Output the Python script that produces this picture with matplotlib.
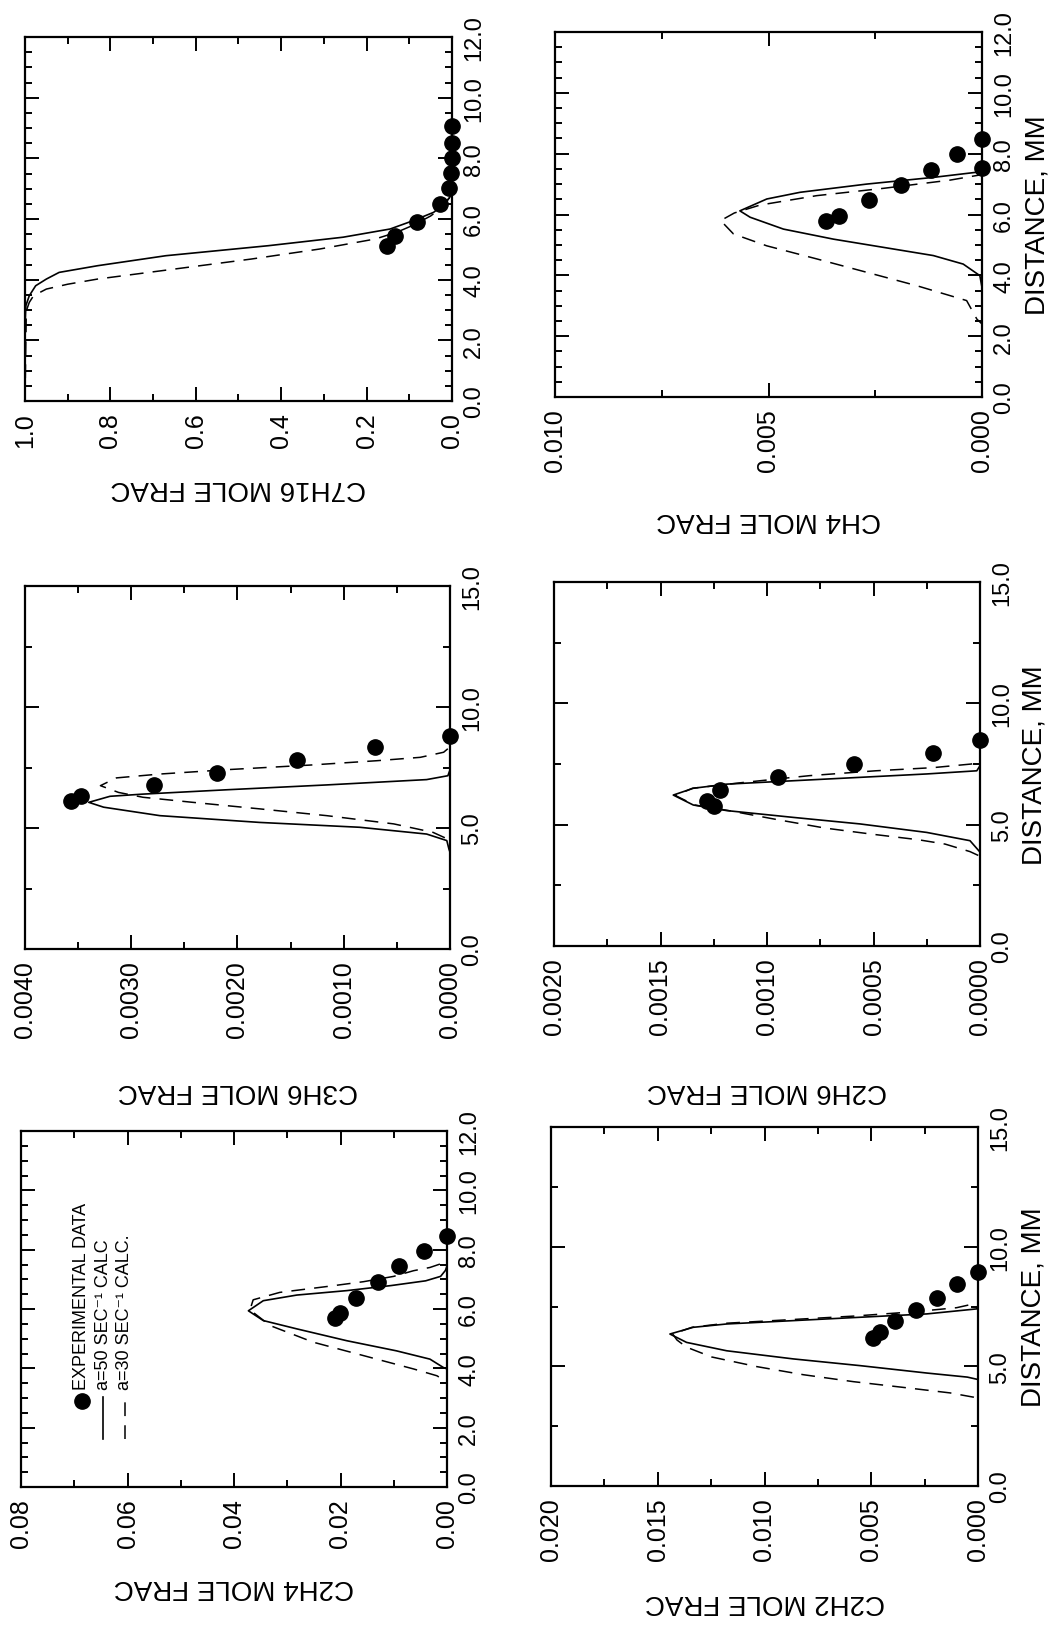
import matplotlib
matplotlib.use("Agg")
import matplotlib.pyplot as plt
from matplotlib.ticker import MultipleLocator, FormatStrFormatter

plt.rcParams["font.family"] = ["Liberation Sans", "DejaVu Sans"]

# --- data (distance in mm, mole fraction) ---

# C7H16
c7h16_exp_dist = [5.12, 5.43, 5.91, 6.49, 7.02, 7.52, 8.0, 8.5, 9.06]
c7h16_exp = [0.152, 0.133, 0.082, 0.029, 0.008, 0.003, 0.001, 0.0, 0.0]
c7h16_a50_dist = [0.0, 2.5, 3.14, 3.47, 3.80, 4.02, 4.24, 4.46, 4.79, 5.12,
                  5.40, 5.67, 5.95, 6.22, 6.50, 6.72, 7.0, 12.0]
c7h16_a50 = [1.0, 1.0, 0.998, 0.99, 0.975, 0.95, 0.92, 0.83, 0.67, 0.43,
             0.255, 0.145, 0.09, 0.043, 0.018, 0.005, 0.0, 0.0]
c7h16_a30_dist = [0.0, 2.97, 3.25, 3.47, 3.69, 3.85, 4.02, 4.35, 4.68, 5.01,
                  5.34, 5.56, 5.80, 6.1, 6.4, 6.7, 7.0, 12.0]
c7h16_a30 = [1.0, 0.997, 0.99, 0.98, 0.95, 0.90, 0.83, 0.65, 0.47, 0.31,
             0.18, 0.13, 0.09, 0.05, 0.022, 0.006, 0.0, 0.0]

# C3H6
c3h6_exp_dist = [6.10, 6.33, 6.78, 7.29, 7.82, 8.33, 8.81]
c3h6_exp = [0.00357, 0.00347, 0.00279, 0.00219, 0.00144, 0.00071, 0.0]
c3h6_a50_dist = [0.0, 4.0, 4.13, 4.48, 4.75, 5.03, 5.23, 5.51, 5.86, 6.06,
                 6.31, 6.40, 6.58, 6.78, 7.0, 7.16, 7.4, 15.0]
c3h6_a50 = [0.0, 0.0, 0.00001, 0.00003, 0.00022, 0.00085, 0.00179, 0.00273,
            0.00326, 0.0034, 0.0032, 0.00289, 0.0021, 0.00116, 0.00022,
            0.00002, 0.0, 0.0]
c3h6_a30_dist = [0.0, 4.5, 4.82, 5.17, 5.51, 5.79, 6.06, 6.27, 6.47, 6.75,
                 7.07, 7.23, 7.41, 7.60, 7.78, 7.92, 8.13, 8.35, 15.0]
c3h6_a30 = [0.0, 0.0, 0.00016, 0.00053, 0.00116, 0.00179, 0.00242, 0.00289,
            0.00312, 0.00329, 0.00314, 0.00273, 0.0021, 0.00132, 0.00069,
            0.00028, 0.00006, 0.0, 0.0]

# C2H4
c2h4_exp_dist = [5.70, 5.86, 6.37, 6.90, 7.46, 7.96, 8.47]
c2h4_exp = [0.0211, 0.0201, 0.0171, 0.0129, 0.0091, 0.0043, 0.0]
c2h4_a50_dist = [0.0, 3.98, 4.03, 4.31, 4.59, 4.93, 5.33, 5.61, 5.94, 6.28,
                 6.47, 6.62, 6.79, 6.95, 7.1, 7.3, 7.45, 12.0]
c2h4_a50 = [0.0, 0.0, 0.0007, 0.0032, 0.0095, 0.0188, 0.0282, 0.0345, 0.0373,
            0.0345, 0.0282, 0.0188, 0.0105, 0.004, 0.0012, 0.0003, 0.0, 0.0]
c2h4_a30_dist = [0.0, 3.54, 3.75, 3.98, 4.43, 4.88, 5.44, 5.97, 6.31, 6.56,
                 6.77, 6.92, 7.1, 7.29, 7.40, 7.57, 7.7, 12.0]
c2h4_a30 = [0.0, 0.0, 0.0019, 0.0063, 0.0157, 0.0251, 0.0332, 0.0370, 0.0364,
            0.0314, 0.0220, 0.0157, 0.0100, 0.0063, 0.0032, 0.0004, 0.0, 0.0]

# CH4
ch4_exp_dist = [5.79, 5.96, 6.49, 6.97, 7.47, 7.99, 7.54, 8.48]
ch4_exp = [0.00365, 0.00335, 0.00265, 0.0019, 0.0012, 0.00058, 0.0, 0.0]
ch4_a50_dist = [0.0, 3.6, 3.99, 4.37, 4.65, 4.92, 5.19, 5.52, 5.91, 6.12,
                6.51, 6.73, 7.0, 7.22, 7.39, 7.6, 12.0]
ch4_a50 = [0.0, 0.0, 0.00005, 0.00044, 0.00114, 0.00231, 0.00348, 0.00465,
           0.00543, 0.00567, 0.00504, 0.00426, 0.0027, 0.00114, 0.00012,
           0.0, 0.0]
ch4_a30_dist = [0.0, 2.4, 2.56, 3.17, 3.66, 4.10, 4.54, 4.97, 5.36, 5.80,
                6.05, 6.31, 6.62, 6.86, 7.13, 7.30, 7.45, 12.0]
ch4_a30 = [0.0, 0.0, 0.00012, 0.00036, 0.00153, 0.0027, 0.00387, 0.00504,
           0.00582, 0.00612, 0.0058, 0.0052, 0.00387, 0.00231, 0.00075,
           0.00005, 0.0, 0.0]

# C2H6
c2h6_exp_dist = [5.78, 5.99, 6.44, 6.95, 7.49, 7.97, 8.49]
c2h6_exp = [0.00125, 0.00128, 0.00122, 0.00095, 0.00059, 0.00022, 0.0]
c2h6_a50_dist = [0.0, 3.87, 4.34, 4.68, 5.03, 5.30, 5.58, 5.81, 6.22, 6.50,
                 6.67, 6.81, 6.95, 7.09, 7.22, 7.43, 15.0]
c2h6_a50 = [0.0, 0.0, 0.000047, 0.00025, 0.000563, 0.000877, 0.001189,
            0.001346, 0.00144, 0.001346, 0.001189, 0.000877, 0.000563,
            0.00025, 0.000015, 0.0, 0.0]
c2h6_a30_dist = [0.0, 3.7, 3.89, 4.20, 4.38, 4.61, 4.86, 5.20, 5.58, 5.81,
                 6.2, 6.5, 6.74, 7.02, 7.22, 7.35, 7.5, 7.65, 15.0]
c2h6_a30 = [0.0, 0.0, 0.000047, 0.000164, 0.00029, 0.000509, 0.000728,
            0.000947, 0.00118, 0.00134, 0.00143, 0.00135, 0.00111, 0.0008,
            0.00049, 0.00022, 0.00004, 0.0, 0.0]

# C2H2
c2h2_exp_dist = [6.20, 6.44, 6.88, 7.37, 7.87, 8.44, 8.93]
c2h2_exp = [0.0049, 0.0046, 0.0039, 0.0029, 0.0019, 0.00097, 0.0]
c2h2_a50_dist = [0.0, 4.45, 4.55, 4.72, 5.03, 5.31, 5.65, 6.0, 6.35, 6.63,
                 6.77, 6.91, 7.05, 7.19, 7.40, 7.55, 15.0]
c2h2_a50 = [0.0, 0.0, 0.0005, 0.0024, 0.00553, 0.00865, 0.01177, 0.01365,
            0.01443, 0.01334, 0.01177, 0.00865, 0.00553, 0.0024, 0.00006,
            0.0, 0.0]
c2h2_a30_dist = [0.0, 3.65, 3.71, 3.89, 4.12, 4.36, 4.65, 4.99, 5.39, 5.80,
                 6.1, 6.35, 6.63, 6.8, 6.95, 7.1, 7.28, 7.45, 7.65, 15.0]
c2h2_a30 = [0.0, 0.0, 0.0002, 0.00131, 0.0035, 0.00584, 0.00818, 0.01037,
            0.01247, 0.01365, 0.0141, 0.0143, 0.0134, 0.0118, 0.0088, 0.0058,
            0.0030, 0.0010, 0.0, 0.0]

legend_labels = ["EXPERIMENTAL DATA", "a=50 SEC\u207b\u00b9 CALC",
                 "a=30 SEC\u207b\u00b9 CALC."]

W, H = 1061, 1631
DASH = (0, (9, 6))


def px_rect(x0, y0, x1, y1):
    # pixel box on the (rotated) page -> figure fraction
    return [x0 / W, 1 - y1 / H, (x1 - x0) / W, (y1 - y0) / H]


def draw_panel(fig, box, exp, a50, a30, frac, dist, name, label_y, show_dist):
    ax = fig.add_axes(px_rect(*box))
    # the page is turned: distance runs up, mole fraction grows to the left
    ax.plot(a50[1], a50[0], color="black", lw=1.2)
    ax.plot(a30[1], a30[0], color="black", lw=1.1, ls=DASH)
    ax.plot(exp[1], exp[0], "o", color="black", ms=11, clip_on=False, zorder=5)

    fmax, fmajor, fminor, ffmt = frac
    dmax, dmajor, dminor = dist
    ax.set_xlim(fmax, 0)
    ax.set_ylim(0, dmax)
    ax.xaxis.set_major_locator(MultipleLocator(fmajor))
    ax.xaxis.set_minor_locator(MultipleLocator(fminor))
    ax.xaxis.set_major_formatter(FormatStrFormatter(ffmt))
    ax.yaxis.set_major_locator(MultipleLocator(dmajor))
    ax.yaxis.set_minor_locator(MultipleLocator(dminor))
    ax.yaxis.set_major_formatter(FormatStrFormatter("%.1f"))

    ax.tick_params(which="both", direction="in", top=True, bottom=True,
                   left=True, right=True, labelleft=False, labelright=True,
                   labeltop=False, labelbottom=True, width=1.4)
    ax.tick_params(which="major", length=10)
    ax.tick_params(which="minor", length=5)
    ax.tick_params(axis="x", labelrotation=90, labelsize=18, pad=8)
    ax.tick_params(axis="y", labelrotation=90, labelsize=17, pad=8)
    for t in ax.yaxis.get_major_ticks():
        t.label2.set_verticalalignment("center")
    for s in ax.spines.values():
        s.set_linewidth(1.6)

    ax.set_xlabel(name, rotation=180, fontsize=20)
    ax.xaxis.set_label_coords(0.5, label_y)
    ax.xaxis.label.set_verticalalignment("center")
    if show_dist:
        ax.yaxis.set_label_position("right")
        ax.set_ylabel("DISTANCE, MM", rotation=90, fontsize=20)
        ax.yaxis.set_label_coords(1.129, 0.5)
        ax.yaxis.label.set_verticalalignment("center")
        ax.yaxis.label.set_horizontalalignment("center")
    return ax


def main():
    fig = plt.figure(figsize=(W / 100, H / 100), dpi=100)
    fig.patch.set_facecolor("white")

    draw_panel(fig, (25, 38, 452, 402),
               (c7h16_exp_dist, c7h16_exp), (c7h16_a50_dist, c7h16_a50),
               (c7h16_a30_dist, c7h16_a30),
               (1.0, 0.2, 0.1, "%.1f"), (12, 2, 0.5),
               "C7H16 MOLE FRAC", -0.236, False)
    draw_panel(fig, (25, 587, 450, 950),
               (c3h6_exp_dist, c3h6_exp), (c3h6_a50_dist, c3h6_a50),
               (c3h6_a30_dist, c3h6_a30),
               (0.004, 0.001, 0.0005, "%.4f"), (15, 5, 2.5),
               "C3H6 MOLE FRAC", -0.388, False)
    ax_c2h4 = draw_panel(fig, (21, 1132, 447, 1488),
                         (c2h4_exp_dist, c2h4_exp), (c2h4_a50_dist, c2h4_a50),
                         (c2h4_a30_dist, c2h4_a30),
                         (0.08, 0.02, 0.01, "%.2f"), (12, 2, 0.5),
                         "C2H4 MOLE FRAC", -0.278, False)
    draw_panel(fig, (555, 33, 982, 398),
               (ch4_exp_dist, ch4_exp), (ch4_a50_dist, ch4_a50),
               (ch4_a30_dist, ch4_a30),
               (0.010, 0.005, 0.0025, "%.3f"), (12, 2, 0.5),
               "CH4 MOLE FRAC", -0.334, True)
    draw_panel(fig, (554, 583, 980, 947),
               (c2h6_exp_dist, c2h6_exp), (c2h6_a50_dist, c2h6_a50),
               (c2h6_a30_dist, c2h6_a30),
               (0.002, 0.0005, 0.00025, "%.4f"), (15, 5, 2.5),
               "C2H6 MOLE FRAC", -0.396, True)
    draw_panel(fig, (551, 1128, 978, 1487),
               (c2h2_exp_dist, c2h2_exp), (c2h2_a50_dist, c2h2_a50),
               (c2h2_a30_dist, c2h2_a30),
               (0.020, 0.005, 0.0025, "%.3f"), (15, 5, 2.5),
               "C2H2 MOLE FRAC", -0.320, True)

    # hand-built legend, turned like the rest of the page
    ax = ax_c2h4
    lx = [0.1425, 0.1925, 0.244]
    ax.plot([lx[0]], [0.242], "o", color="black", ms=11,
            transform=ax.transAxes)
    ax.plot([lx[1], lx[1]], [0.135, 0.253], color="black", lw=1.2,
            transform=ax.transAxes)
    ax.plot([lx[2], lx[2]], [0.135, 0.253], color="black", lw=1.1, ls=DASH,
            transform=ax.transAxes)
    for x, s in zip(lx, legend_labels):
        ax.text(x, 0.275, s, rotation=90, ha="center", va="bottom",
                fontsize=13, transform=ax.transAxes)

    fig.savefig("out.png", dpi=100)


if __name__ == "__main__":
    main()
